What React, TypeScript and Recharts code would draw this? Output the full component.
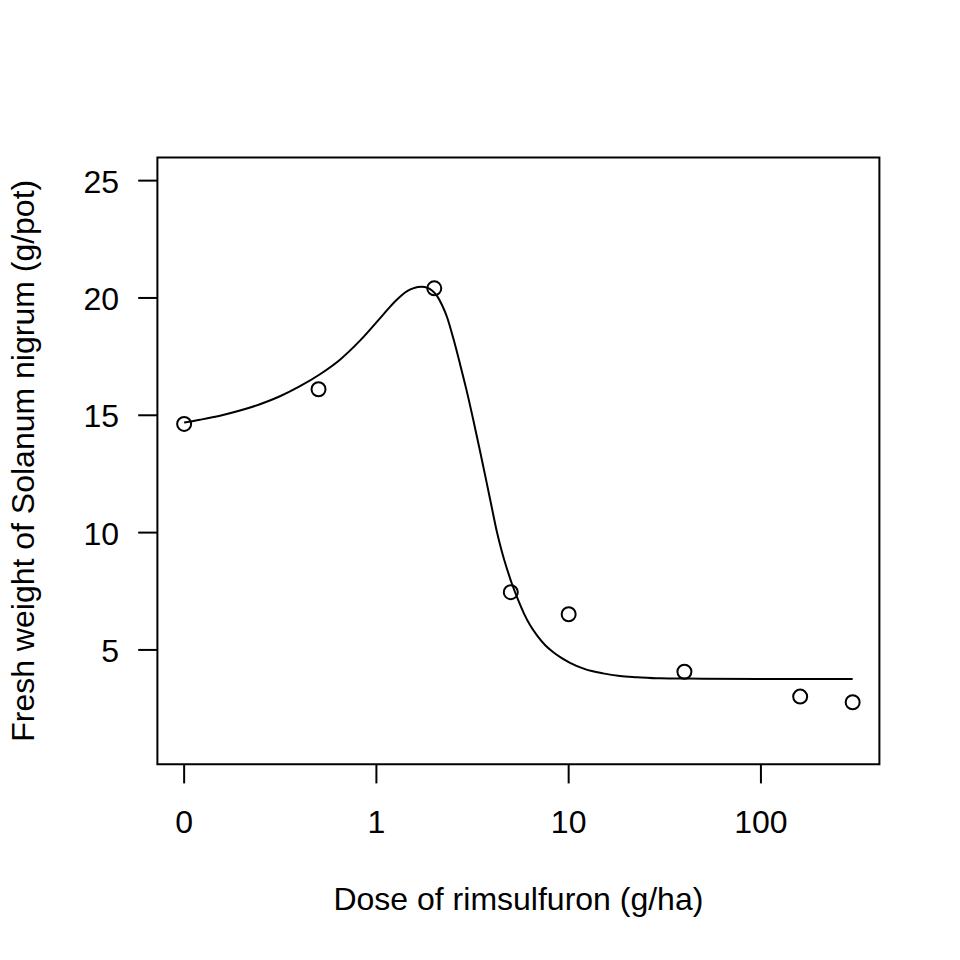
import React from 'react';
import { ComposedChart, Line, Scatter, XAxis, YAxis, ReferenceArea, Label } from 'recharts';

// Observed data (dose in g/ha, fresh weight in g/pot)
const doses = [0, 0.5, 2, 5, 10, 40, 160, 300];
const weights = [14.63, 16.11, 20.41, 7.46, 6.52, 4.07, 3.01, 2.77];

// Fitted curve (x in log10-dose axis units; dose 0 drawn at -1)
const curveLogDose = [
  -1, -0.9175, -0.8135, -0.7095, -0.6055, -0.5014, -0.3974, -0.2934, -0.1894, -0.0853,
  0.0343, 0.0707, 0.1019, 0.1332, 0.1644, 0.1904, 0.2164, 0.2372, 0.2632, 0.2892,
  0.3152, 0.3412, 0.3672, 0.4, 0.4348, 0.4697, 0.504, 0.5389, 0.5737, 0.5997,
  0.6257, 0.6517, 0.6777, 0.7053, 0.7381, 0.7677, 0.7989, 0.8353, 0.8769, 0.9185,
  0.9602, 1.007, 1.085, 1.1786, 1.2671, 1.3555, 1.4751, 1.6155, 1.9952, 2.4771,
];
const curveWeight = [
  14.69, 14.81, 14.98, 15.2, 15.47, 15.81, 16.24, 16.75, 17.37, 18.18,
  19.28, 19.62, 19.89, 20.13, 20.31, 20.41, 20.47, 20.48, 20.44, 20.32,
  20.09, 19.7, 19.19, 18.28, 17.19, 16.04, 14.8, 13.48, 12.12, 11.09,
  10.07, 9.22, 8.49, 7.81, 7.11, 6.55, 6.06, 5.62, 5.21, 4.91,
  4.67, 4.45, 4.18, 4.0, 3.89, 3.84, 3.79, 3.78, 3.76, 3.76,
];

const xTicks = [-1, 0, 1, 2];
const xTickLabels = ['0', '1', '10', '100'];
const yTicks = [5, 10, 15, 20, 25];

const xTitle = 'Dose of rimsulfuron (g/ha)';
const yTitle = 'Fresh weight of Solanum nigrum (g/pot)';

const FONT = '"Liberation Sans", Arial, Helvetica, sans-serif';
const FS = 32;

const toAxis = (d: number) => (d === 0 ? -1 : Math.log10(d));

const pointData = doses.map((d, i) => ({ x: toAxis(d), y: weights[i] }));
const curveData = curveLogDose.map((x, i) => ({ x, y: curveWeight[i] }));

const xLo = -1;
const xHi = Math.log10(300);
const xExt = 0.04 * (xHi - xLo);
const xDomain: [number, number] = [xLo - xExt, xHi + xExt];
const yDomain: [number, number] = [0.13, 25.99];

const XTick = (props: any) => {
  const { x, y, payload } = props;
  const idx = xTicks.indexOf(payload.value);
  return (
    <text x={x} y={y + 49.9} textAnchor="middle" fontSize={FS} fontFamily={FONT} fill="#000">
      {idx >= 0 ? xTickLabels[idx] : String(payload.value)}
    </text>
  );
};

const YTick = (props: any) => {
  const { x, y, payload } = props;
  return (
    <text x={x - 19.2} y={y + 12} textAnchor="end" fontSize={FS} fontFamily={FONT} fill="#000">
      {String(payload.value)}
    </text>
  );
};

const XTitle = (props: any) => {
  const vb = props.viewBox || {};
  return (
    <text
      x={vb.x + vb.width / 2}
      y={vb.y + 146.1}
      textAnchor="middle"
      fontSize={FS}
      fontFamily={FONT}
      fill="#000"
    >
      {xTitle}
    </text>
  );
};

const YTitle = (props: any) => {
  const vb = props.viewBox || {};
  const cx = vb.x + 34.5;
  const cy = vb.y + vb.height / 2;
  return (
    <text
      x={cx}
      y={cy}
      transform={`rotate(-90, ${cx}, ${cy})`}
      textAnchor="middle"
      fontSize={FS}
      fontFamily={FONT}
      fill="#000"
    >
      {yTitle}
    </text>
  );
};

const Ring = (props: any) => {
  const { cx, cy } = props;
  if (cx == null || cy == null) return null;
  return <circle cx={cx} cy={cy} r={7} fill="none" stroke="#000" strokeWidth={2} />;
};

export default function App() {
  return (
    <div style={{ position: 'absolute', left: 0, top: 0, width: 960, height: 960, background: '#fff' }}>
      <ComposedChart
        width={960}
        height={960}
        margin={{ top: 157.4, right: 80.6, bottom: 0, left: 0 }}
      >
        <XAxis
          type="number"
          dataKey="x"
          domain={xDomain}
          allowDataOverflow
          ticks={xTicks}
          interval={0}
          height={195.8}
          axisLine={false}
          tickLine={{ stroke: '#000', strokeWidth: 2 }}
          tickSize={19.2}
          tickMargin={0}
          tick={<XTick />}
        >
          <Label content={<XTitle />} />
        </XAxis>
        <YAxis
          type="number"
          domain={yDomain}
          allowDataOverflow
          ticks={yTicks}
          interval={0}
          width={157.4}
          axisLine={false}
          tickLine={{ stroke: '#000', strokeWidth: 2 }}
          tickSize={19.2}
          tickMargin={0}
          tick={<YTick />}
        >
          <Label content={<YTitle />} />
        </YAxis>
        <ReferenceArea
          x1={xDomain[0]}
          x2={xDomain[1]}
          y1={yDomain[0]}
          y2={yDomain[1]}
          fill="none"
          fillOpacity={0}
          stroke="#000"
          strokeWidth={2}
          ifOverflow="visible"
        />
        <Line
          data={curveData}
          dataKey="y"
          type="monotone"
          stroke="#000"
          strokeWidth={2}
          dot={false}
          activeDot={false}
          isAnimationActive={false}
        />
        <Scatter data={pointData} dataKey="y" shape={<Ring />} isAnimationActive={false} />
      </ComposedChart>
    </div>
  );
}
